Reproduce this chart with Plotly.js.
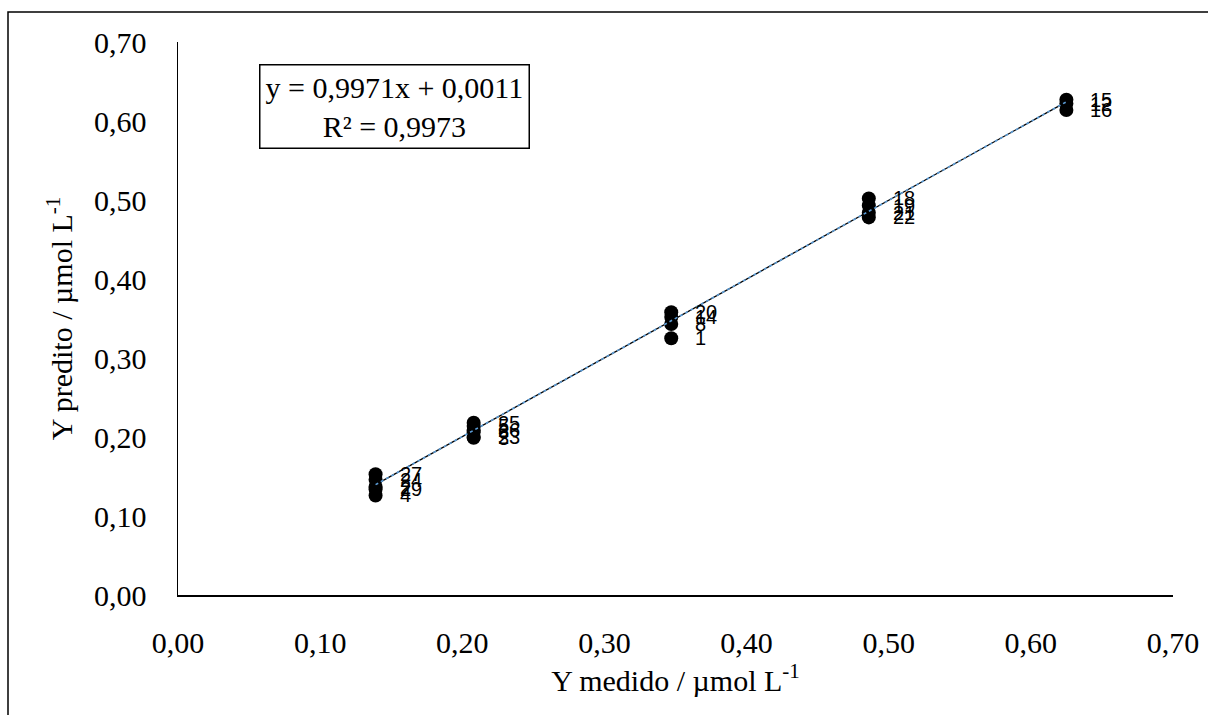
<!DOCTYPE html>
<html>
<head>
<meta charset="utf-8">
<script src="https://cdn.plot.ly/plotly-3.0.1.min.js"></script>
<style>html,body{margin:0;padding:0;background:#fff;}#chart{width:1208px;height:715px;}</style>
</head>
<body>
<div id="chart"></div>
<script>
// Data
const pointLabels = ['27','24','2','29','4',
                     '25','5','26','6','23','3',
                     '20','14','8','1',
                     '18','19','21','22',
                     '15','12','16'];
const yMedido = [0.139,0.139,0.139,0.139,0.139,
                 0.208,0.208,0.208,0.208,0.208,0.208,
                 0.347,0.347,0.347,0.347,
                 0.486,0.486,0.486,0.486,
                 0.625,0.625,0.625];
const yPredito = [0.153,0.146,0.137,0.134,0.126,
                  0.218,0.214,0.209,0.206,0.200,0.199,
                  0.358,0.352,0.343,0.325,
                  0.502,0.493,0.484,0.478,
                  0.627,0.622,0.614];
const slope = 0.9971;
const intercept = 0.0011;
const equationText = 'y = 0,9971x + 0,0011<br>R² = 0,9973';
const xTitle = 'Y medido / µmol L<sup>-1</sup>';
const yTitle = 'Y predito / µmol L<sup>-1</sup>';

const xMin = Math.min(...yMedido), xMax = Math.max(...yMedido);
const lineX = [xMin, xMax];
const lineY = lineX.map(v => slope * v + intercept);

const serif = 'Liberation Serif, Times New Roman, serif';
const sans = 'Liberation Sans, Arial, sans-serif';

const traces = [
  {x: yMedido, y: yPredito, mode: 'markers', type: 'scatter',
   marker: {color: '#000', size: 14}, hoverinfo: 'x+y'},
  {x: lineX, y: lineY, mode: 'lines', type: 'scatter',
   line: {color: '#000', width: 1.3}},
  {x: lineX, y: lineY, mode: 'lines', type: 'scatter',
   line: {color: '#5B9BD5', width: 1.6, dash: 'dot'}}
];

const annotations = pointLabels.map((t, i) => ({
  x: yMedido[i], y: yPredito[i], xref: 'x', yref: 'y', text: t,
  showarrow: false, xanchor: 'left', yanchor: 'middle', xshift: 22,
  font: {family: sans, size: 20, color: '#000'}
}));
annotations.push({
  x: 0.218, y: 0.884, xref: 'paper', yref: 'paper', text: equationText,
  showarrow: false, xanchor: 'center', yanchor: 'middle',
  bordercolor: '#000', borderwidth: 1.5, borderpad: 5, bgcolor: '#fff',
  font: {family: serif, size: 30, color: '#000'}
});

const layout = {
  width: 1208, height: 715,
  margin: {l: 178, r: 35, t: 42, b: 120},
  paper_bgcolor: '#fff', plot_bgcolor: '#fff',
  showlegend: false,
  separators: ',.',
  xaxis: {
    range: [0, 0.7], dtick: 0.1, tick0: 0, tickformat: '.2f',
    showgrid: false, zeroline: false, showline: true, linecolor: '#000', linewidth: 1.5,
    ticks: '', ticklabelstandoff: 20,
    tickfont: {family: serif, size: 30, color: '#000'},
    title: {text: xTitle, font: {family: serif, size: 30, color: '#000'}, standoff: 12}
  },
  yaxis: {
    range: [0, 0.7], dtick: 0.1, tick0: 0, tickformat: '.2f',
    showgrid: false, zeroline: false, showline: true, linecolor: '#000', linewidth: 1.5,
    ticks: '', ticklabelstandoff: 24,
    tickfont: {family: serif, size: 30, color: '#000'},
    title: {text: yTitle, font: {family: serif, size: 30, color: '#000'}, standoff: 12}
  },
  annotations: annotations,
  shapes: [{
    type: 'rect', xref: 'paper', yref: 'paper',
    x0: (8 - 178) / 995, x1: (1240 - 178) / 995,
    y0: (595 - 760) / 553, y1: (595 - 12) / 553,
    line: {color: '#000', width: 1.5}, fillcolor: 'rgba(0,0,0,0)', layer: 'below'
  }]
};

Plotly.newPlot('chart', traces, layout, {displayModeBar: false, staticPlot: true});
</script>
</body>
</html>
